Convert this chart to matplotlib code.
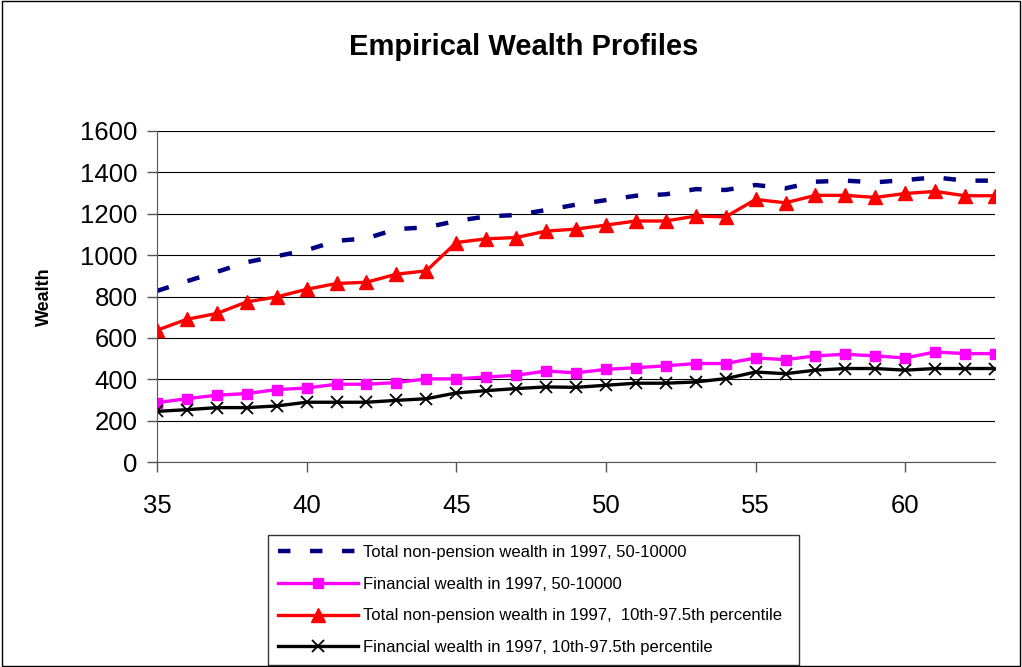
import numpy as np
import matplotlib.pyplot as plt
from matplotlib.patches import Rectangle

plt.rcParams['font.family'] = ['Liberation Sans', 'DejaVu Sans']

ages = list(range(35, 64))

total_50 = [827, 874, 919, 966, 995, 1024, 1069, 1081, 1126, 1134,
            1165, 1187, 1194, 1218, 1244, 1266, 1287, 1294, 1319, 1315,
            1339, 1323, 1355, 1360, 1352, 1363, 1376, 1360, 1360]
fin_50 = [287, 306, 323, 331, 350, 358, 376, 376, 384, 402,
          402, 411, 419, 440, 431, 448, 456, 465, 476, 476,
          503, 495, 513, 521, 513, 503, 532, 524, 524]
total_pct = [637, 690, 718, 774, 798, 835, 863, 869, 908, 924,
             1061, 1079, 1085, 1116, 1126, 1145, 1165, 1165, 1189, 1185,
             1269, 1253, 1289, 1289, 1279, 1298, 1308, 1287, 1287]
fin_pct = [245, 253, 263, 263, 271, 289, 289, 289, 298, 306,
           334, 345, 355, 363, 361, 371, 381, 381, 387, 403,
           435, 427, 444, 452, 452, 444, 452, 452, 452]

labels = ['Total non-pension wealth in 1997, 50-10000',
          'Financial wealth in 1997, 50-10000',
          'Total non-pension wealth in 1997,  10th-97.5th percentile',
          'Financial wealth in 1997, 10th-97.5th percentile']

fig = plt.figure(figsize=(10.22, 6.67), dpi=100)
ax = fig.add_axes([0.1536, 0.3073, 0.82, 0.4963])

ax.plot(ages, total_50, color='#000080', lw=3.2, dashes=(2.8, 4.4),
        dash_capstyle='butt', label=labels[0])
ax.plot(ages, fin_50, color='#FF00FF', lw=2.4, marker='s', ms=7.5,
        label=labels[1])
ax.plot(ages, total_pct, color='#FF0000', lw=2.4, marker='^', ms=9.5,
        label=labels[2])
ax.plot(ages, fin_pct, color='black', lw=2.4, marker='x', ms=8, mew=1.3,
        label=labels[3])

ax.set_xlim(35, 63)
ax.set_ylim(0, 1600)
ax.set_xticks([35, 40, 45, 50, 55, 60])
ax.set_yticks(np.arange(0, 1601, 200))
ax.yaxis.grid(True, color='black', lw=0.8)
ax.set_axisbelow(True)
for s in ['top', 'right']:
    ax.spines[s].set_visible(False)
ax.spines['left'].set_color('#555555')
ax.spines['bottom'].set_color('#555555')
ax.tick_params(labelsize=18.5, length=7, width=1, color='#555555')
ax.tick_params(axis='y', pad=7)
ax.tick_params(axis='x', pad=16)

ax.set_ylabel('Wealth', fontsize=13, fontweight='bold')
ax.yaxis.set_label_coords(-0.124, 0.5)
fig.text(0.512, 1 - 55 / 667, 'Empirical Wealth Profiles', fontsize=21,
         fontweight='bold', ha='center', va='baseline')

leg = fig.legend(loc='upper left', bbox_to_anchor=(0.262, 0.0, 0.52, 1 - 535 / 667),
                 mode='expand', fontsize=12, frameon=True, fancybox=False,
                 edgecolor='black', handlelength=4.8, borderaxespad=0,
                 labelspacing=1.0, handletextpad=0.3, borderpad=0.6)
leg.get_frame().set_linewidth(1)

fig.patches.append(Rectangle((0.002, 0.002), 0.996, 0.996, transform=fig.transFigure,
                             fill=False, edgecolor='black', lw=1))

fig.savefig('out.png', dpi=100)
